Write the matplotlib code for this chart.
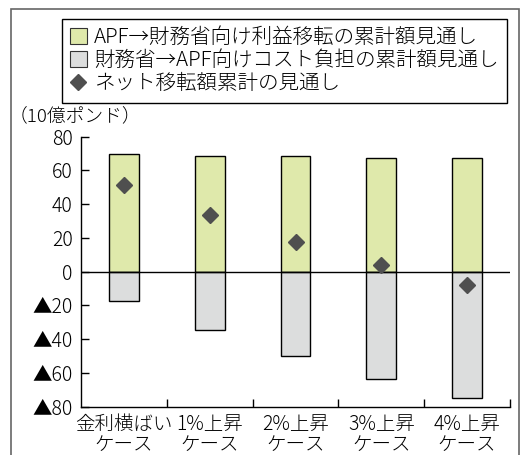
import matplotlib
matplotlib.use("Agg")
import matplotlib.pyplot as plt
from matplotlib.patches import Patch, Rectangle
from matplotlib.lines import Line2D

plt.rcParams['font.family'] = ['Noto Sans CJK JP', 'DejaVu Sans']
plt.rcParams['font.weight'] = 'light'

categories = ["金利横ばい\nケース", "1%上昇\nケース", "2%上昇\nケース", "3%上昇\nケース", "4%上昇\nケース"]
profit_transfer = [70.0, 68.7, 68.3, 67.2, 67.2]
cost_burden = [-17.6, -34.8, -50.0, -63.6, -75.0]
net_transfer = [51.6, 33.4, 17.5, 4.0, -8.1]
yticks = [80, 60, 40, 20, 0, -20, -40, -60, -80]
ytick_labels = ["80", "60", "40", "20", "0", "▲20", "▲40", "▲60", "▲80"]
legend_labels = ["APF→財務省向け利益移転の累計額見通し",
                 "財務省→APF向けコスト負担の累計額見通し",
                 "ネット移転額累計の見通し"]

green = "#dfe9ab"
gray = "#dcdddd"
dark = "#4f4f4f"
fs = 14

fig = plt.figure(figsize=(5.21, 4.55), dpi=100)
ax = fig.add_axes([81/521, 1-406.7/455, (510-81)/521, (406.7-136.7)/455])

x = list(range(len(categories)))
w = 0.345
ax.bar(x, profit_transfer, width=w, color=green, edgecolor="black", linewidth=1.0, zorder=2)
ax.bar(x, cost_burden, width=w, color=gray, edgecolor="black", linewidth=1.0, zorder=2)
ax.axhline(0, color="black", linewidth=1.0, zorder=3)
ax.plot(x, net_transfer, linestyle="none", marker="D", markersize=8.5, color=dark, zorder=4)

ax.set_xlim(-0.5, len(categories) - 0.5)
ax.set_ylim(-80, 80)
ax.set_yticks(yticks)
ax.set_yticklabels(ytick_labels, fontsize=fs)
ax.set_xticks([i + 0.5 for i in range(len(categories))])
ax.set_xticklabels([])
ax.set_xticks(x, minor=True)
ax.set_xticklabels(categories, minor=True, fontsize=fs, linespacing=0.95)
ax.tick_params(axis='x', which='minor', length=0, pad=5)
ax.tick_params(axis='x', which='major', direction='in', length=6, width=1)
ax.tick_params(axis='y', direction='in', length=6, width=1, pad=6)
for s in ['top', 'right']:
    ax.spines[s].set_visible(False)
for s in ['left', 'bottom']:
    ax.spines[s].set_linewidth(1.0)

fig.text(9/521, 1-116/455, "（10億ポンド）", fontsize=13.5, va='center', ha='left')

handles = [Patch(facecolor=green, edgecolor="#333333", linewidth=0.8),
           Patch(facecolor=gray, edgecolor="#333333", linewidth=0.8),
           Line2D([], [], linestyle="none", marker="D", markersize=8.5, color=dark)]
leg = fig.legend(handles, legend_labels, loc='upper left',
                 bbox_to_anchor=(62/521, 1-19/455), borderaxespad=0,
                 prop={'size': 14.8}, frameon=True, fancybox=False, framealpha=1,
                 edgecolor="black", handlelength=0.8, handleheight=0.8,
                 handletextpad=0.35, labelspacing=0.1, borderpad=0.4)
leg.get_frame().set_linewidth(1.0)

frame = Rectangle((11/521, -0.05), (519-11)/521, (455-8.5)/455 + 0.05,
                  transform=fig.transFigure, fill=False, edgecolor="#666666",
                  linewidth=1.2, clip_on=False)
fig.patches.append(frame)

fig.savefig("out.png", dpi=100)
